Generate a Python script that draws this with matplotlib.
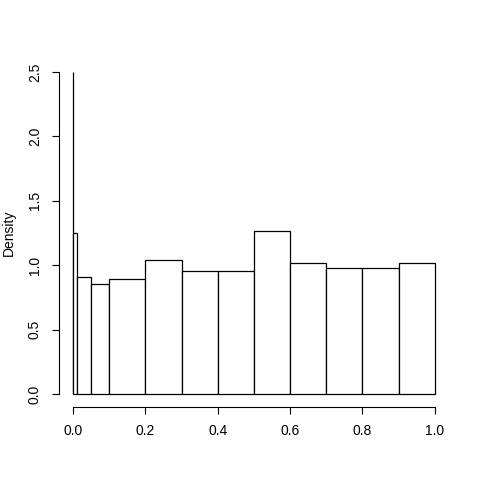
import numpy as np
import matplotlib
matplotlib.use('Agg')
import matplotlib.pyplot as plt

# histogram breaks and densities
breaks = [0.0, 0.001, 0.01, 0.05, 0.1, 0.2, 0.3, 0.4, 0.5, 0.6, 0.7, 0.8, 0.9, 1.0]
density = [2.5, 1.25, 0.91, 0.855, 0.89, 1.04, 0.955, 0.955, 1.265, 1.015, 0.978, 0.978, 1.015]
xticks = [0.0, 0.2, 0.4, 0.6, 0.8, 1.0]
yticks = [0.0, 0.5, 1.0, 1.5, 2.0, 2.5]

plt.rcParams['font.family'] = ['Liberation Sans', 'DejaVu Sans']

fig = plt.figure(figsize=(4.8, 4.8), dpi=100)
ax = fig.add_axes([0.122, 0.152, 0.814, 0.725])

left = np.array(breaks[:-1])
widths = np.diff(breaks)
ax.bar(left, density, width=widths, align='edge', facecolor='white',
       edgecolor='black', linewidth=0.9)

ax.set_xlim(-0.04, 1.04)
ax.set_ylim(-0.1, 2.6)

for s in ['top', 'right']:
    ax.spines[s].set_visible(False)
ax.spines['left'].set_bounds(0, 2.5)
ax.spines['bottom'].set_bounds(0, 1)
ax.spines['left'].set_linewidth(0.8)
ax.spines['bottom'].set_linewidth(0.8)

ax.set_xticks(xticks)
ax.set_xticklabels(['%.1f' % t for t in xticks])
ax.set_yticks(yticks)
ax.set_yticklabels(['%.1f' % t for t in yticks], rotation=90, va='center')
ax.tick_params(length=5, width=0.8, labelsize=10, pad=7)

ax.set_ylabel('Density', fontsize=10, labelpad=9)

plt.savefig('out.png')
